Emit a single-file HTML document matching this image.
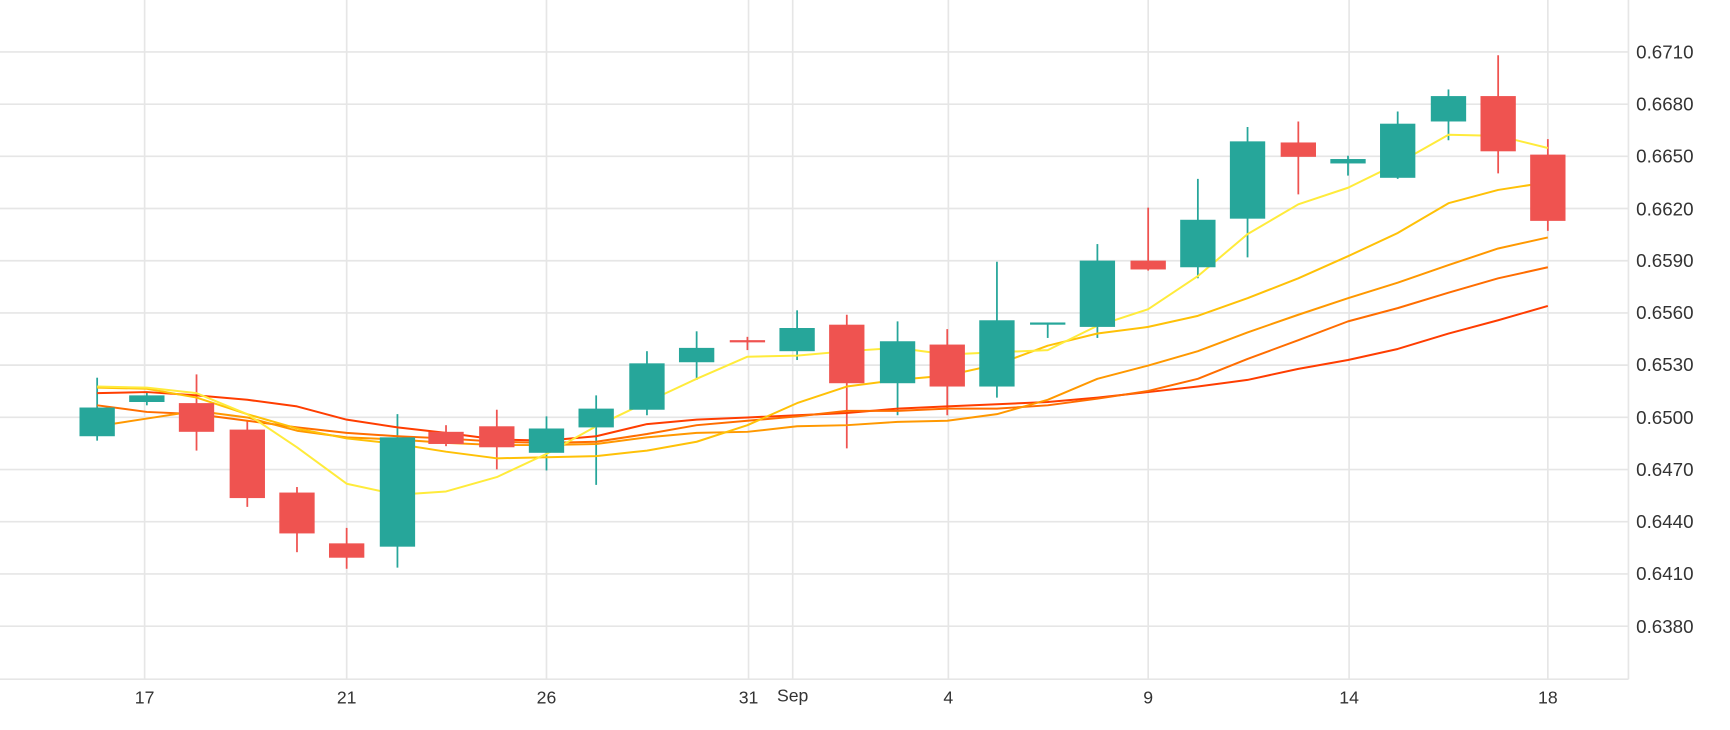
<!DOCTYPE html>
<html><head><style>html,body{margin:0;padding:0;background:#fff;}svg{display:block}</style></head>
<body>
<svg width="1730" height="730" viewBox="0 0 1567 661" preserveAspectRatio="none" xmlns="http://www.w3.org/2000/svg" font-family="'Liberation Sans',sans-serif">
<g stroke="#e6e6e6" stroke-width="1.5">
<line x1="0" x2="1475" y1="47" y2="47"/><line x1="0" x2="1475" y1="94.3" y2="94.3"/><line x1="0" x2="1475" y1="141.5" y2="141.5"/><line x1="0" x2="1475" y1="188.8" y2="188.8"/><line x1="0" x2="1475" y1="236.1" y2="236.1"/><line x1="0" x2="1475" y1="283.4" y2="283.4"/><line x1="0" x2="1475" y1="330.6" y2="330.6"/><line x1="0" x2="1475" y1="377.9" y2="377.9"/><line x1="0" x2="1475" y1="425.2" y2="425.2"/><line x1="0" x2="1475" y1="472.4" y2="472.4"/><line x1="0" x2="1475" y1="519.7" y2="519.7"/><line x1="0" x2="1475" y1="567" y2="567"/>
<line x1="0" x2="1475" y1="615" y2="615"/><line x1="1475" x2="1475" y1="0" y2="615"/>
<line x1="131" x2="131" y1="0" y2="615"/><line x1="314" x2="314" y1="0" y2="615"/><line x1="495" x2="495" y1="0" y2="615"/><line x1="678" x2="678" y1="0" y2="615"/><line x1="718" x2="718" y1="0" y2="615"/><line x1="859" x2="859" y1="0" y2="615"/><line x1="1040" x2="1040" y1="0" y2="615"/><line x1="1222" x2="1222" y1="0" y2="615"/><line x1="1402" x2="1402" y1="0" y2="615"/>
</g>
<g font-size="17" fill="#333">
<text x="1482" y="53">0.6710</text><text x="1482" y="100">0.6680</text><text x="1482" y="147">0.6650</text><text x="1482" y="195">0.6620</text><text x="1482" y="242">0.6590</text><text x="1482" y="289">0.6560</text><text x="1482" y="336">0.6530</text><text x="1482" y="384">0.6500</text><text x="1482" y="431">0.6470</text><text x="1482" y="478">0.6440</text><text x="1482" y="525">0.6410</text><text x="1482" y="573">0.6380</text>
</g>
<g font-size="16" fill="#333" text-anchor="middle">
<text x="131" y="637">17</text><text x="314" y="637">21</text><text x="495" y="637">26</text><text x="678" y="637">31</text><text x="718" y="635">Sep</text><text x="859" y="637">4</text><text x="1040" y="637">9</text><text x="1222" y="637">14</text><text x="1402" y="637">18</text>
</g>
<g stroke-width="1.6" stroke="#26a69a">
<line x1="88" x2="88" y1="342" y2="399"/><line x1="133" x2="133" y1="355" y2="367"/><line x1="360" x2="360" y1="375" y2="514"/><line x1="495" x2="495" y1="377" y2="426"/><line x1="540" x2="540" y1="358" y2="439"/><line x1="586" x2="586" y1="318" y2="376"/><line x1="631" x2="631" y1="300" y2="344"/><line x1="722" x2="722" y1="281" y2="326"/><line x1="813" x2="813" y1="291" y2="376"/><line x1="903" x2="903" y1="237" y2="360"/><line x1="949" x2="949" y1="292" y2="306"/><line x1="994" x2="994" y1="221" y2="306"/><line x1="1085" x2="1085" y1="162" y2="252"/><line x1="1130" x2="1130" y1="115" y2="233"/><line x1="1221" x2="1221" y1="141" y2="159"/><line x1="1266" x2="1266" y1="101" y2="162"/><line x1="1312" x2="1312" y1="81" y2="127"/>
</g>
<g stroke-width="1.6" stroke="#ef5350">
<line x1="178" x2="178" y1="339" y2="408"/><line x1="224" x2="224" y1="381" y2="459"/><line x1="269" x2="269" y1="441" y2="500"/><line x1="314" x2="314" y1="478" y2="515"/><line x1="404" x2="404" y1="385" y2="404"/><line x1="450" x2="450" y1="371" y2="425"/><line x1="677" x2="677" y1="305" y2="317"/><line x1="767" x2="767" y1="285" y2="406"/><line x1="858" x2="858" y1="298" y2="376"/><line x1="1040" x2="1040" y1="188" y2="245"/><line x1="1176" x2="1176" y1="110" y2="176"/><line x1="1357" x2="1357" y1="50" y2="157"/><line x1="1402" x2="1402" y1="126" y2="209"/>
</g>
<g fill="none" stroke-width="1.8" stroke-linejoin="round">
<polyline stroke="#ff3d00" points="88,356 133,355 178,358 224,362 269,368 314,380 360,387 404,392 450,398 495,399 540,395 586,384 631,380 677,378 722,376 767,374 813,370 858,368 903,366 949,364 994,360 1040,355 1085,350 1130,344 1176,334 1221,326 1266,316 1312,302 1357,290 1402,277"/>
<polyline stroke="#ff6d00" points="88,367 133,373 178,375 224,381 269,387 314,392 360,395 404,397 450,400 495,401 540,400 586,393 631,385 677,381 722,377 767,372 813,372 858,370 903,370 949,367 994,361 1040,354 1085,343 1130,325 1176,308 1221,291 1266,279 1312,265 1357,252 1402,242"/>
<polyline stroke="#ff9800" points="88,386 133,379 178,372 224,378 269,390 314,396 360,398 404,401 450,403 495,403 540,402 586,396 631,392 677,391 722,386 767,385 813,382 858,381 903,375 949,362 994,343 1040,331 1085,318 1130,301 1176,285 1221,270 1266,256 1312,240 1357,225 1402,215"/>
<polyline stroke="#ffc107" points="88,351 133,352 178,360 224,375 269,388 314,397 360,402 404,409 450,415 495,414 540,413 586,408 631,400 677,385 722,365 767,350 813,344 858,340 903,330 949,313 994,302 1040,296 1085,286 1130,270 1176,252 1221,232 1266,211 1312,184 1357,172 1402,165"/>
<polyline stroke="#ffeb3b" points="88,350 133,351 178,356 224,375 269,405 314,438 360,448 404,445 450,432 495,411 540,386 586,364 631,343 677,323 722,322 767,318 813,315 858,321 903,319 949,317 994,295 1040,280 1085,250 1130,212 1176,185 1221,170 1266,148 1312,122 1357,123 1402,134"/>
</g>
<g fill="#26a69a">
<rect x="72" y="369" width="32" height="26"/><rect x="117" y="358" width="32" height="6"/><rect x="344" y="396" width="32" height="99"/><rect x="479" y="388" width="32" height="22"/><rect x="524" y="370" width="32" height="17"/><rect x="570" y="329" width="32" height="42"/><rect x="615" y="315" width="32" height="13"/><rect x="706" y="297" width="32" height="21"/><rect x="797" y="309" width="32" height="38"/><rect x="887" y="290" width="32" height="60"/><rect x="933" y="292" width="32" height="2"/><rect x="978" y="236" width="32" height="60"/><rect x="1069" y="199" width="32" height="43"/><rect x="1114" y="128" width="32" height="70"/><rect x="1205" y="144" width="32" height="4"/><rect x="1250" y="112" width="32" height="49"/><rect x="1296" y="87" width="32" height="23"/>
</g>
<g fill="#ef5350">
<rect x="162" y="365" width="32" height="26"/><rect x="208" y="389" width="32" height="62"/><rect x="253" y="446" width="32" height="37"/><rect x="298" y="492" width="32" height="13"/><rect x="388" y="391" width="32" height="11"/><rect x="434" y="386" width="32" height="19"/><rect x="661" y="308" width="32" height="2"/><rect x="751" y="294" width="32" height="53"/><rect x="842" y="312" width="32" height="38"/><rect x="1024" y="236" width="32" height="8"/><rect x="1160" y="129" width="32" height="13"/><rect x="1341" y="87" width="32" height="50"/><rect x="1386" y="140" width="32" height="60"/>
</g>
</svg>
</body></html>
